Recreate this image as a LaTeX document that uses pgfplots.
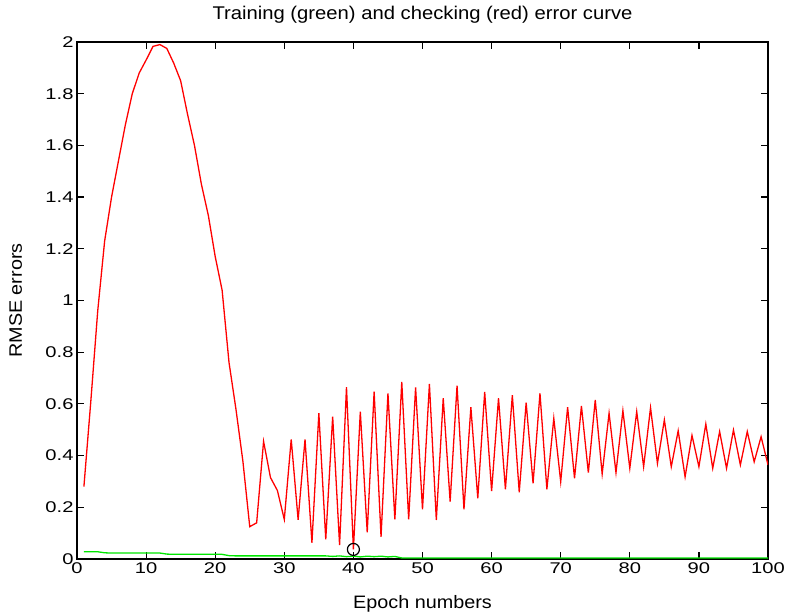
\documentclass[border=0pt]{standalone}
\usepackage{fontspec}
\setmainfont{Liberation Sans}[FakeStretch=1.1]
\newfontfamily\tickfont{Liberation Sans}[FakeStretch=1.3]
\usepackage{pgfplots}
\pgfplotsset{compat=1.18}
\begin{document}
\begin{tikzpicture}[x=1pt,y=1pt]
\useasboundingbox (0,0) rectangle (789,615);
\begin{axis}[
  at={(77pt,56pt)}, anchor=south west,
  scale only axis, width=691pt, height=517pt,
  xmin=0, xmax=100, ymin=0, ymax=2,
  xtick={0,10,20,30,40,50,60,70,80,90,100},
  ytick={0,0.2,0.4,0.6,0.8,1,1.2,1.4,1.6,1.8,2},
  tick align=inside, tick pos=both,
  major tick length=7pt,
  every tick/.style={black, line width=1.2pt},
  axis line style={black, line width=1.4pt},
  /pgf/number format/assume math mode=true,
  tick label style={font=\tickfont\fontsize{15.5}{17}\selectfont},
  title={Training (green) and checking (red) error curve},
  title style={at={(axis description cs:0.5,1)}, anchor=base, yshift=16pt, font=\fontsize{18.4}{20}\selectfont},
  xlabel={Epoch numbers},
  xlabel style={at={(axis description cs:0.5,0)}, anchor=base, yshift=-50pt, font=\fontsize{18}{20}\selectfont},
  ylabel={RMSE errors},
  ylabel style={at={(axis description cs:-0.0796,0.5)}, anchor=base, font=\fontsize{18}{20}\selectfont},
]
\addplot[color={rgb,255:red,0;green,230;blue,0}, line width=1.3pt] coordinates {
(1,0.028) (2,0.028) (3,0.028) (4,0.024) (5,0.023) (6,0.023) (7,0.023) (8,0.023)
(9,0.023) (10,0.023) (11,0.023) (12,0.023) (13,0.019) (14,0.018) (15,0.018)
(16,0.018) (17,0.018) (18,0.018) (19,0.018) (20,0.018) (21,0.018) (22,0.013)
(23,0.012) (25,0.012) (30,0.012) (35,0.012) (36,0.012) (37,0.010) (38,0.012)
(39,0.009) (40,0.011) (41,0.008) (42,0.011) (43,0.009) (44,0.011) (45,0.008)
(46,0.010) (47,0.004) (50,0.004) (60,0.004) (70,0.004) (80,0.004) (90,0.004) (100,0.004)
};
\addplot[color={rgb,255:red,255;green,0;blue,0}, line width=1.3pt] coordinates {
(1,0.28) (2,0.61) (3,0.96) (4,1.23) (5,1.40) (6,1.54) (7,1.68) (8,1.80) (9,1.88)
(10,1.93) (11,1.983) (12,1.99) (13,1.975) (14,1.918) (15,1.85) (16,1.72) (17,1.60)
(18,1.45) (19,1.33) (20,1.17) (21,1.04) (22,0.76) (23,0.58) (24,0.38) (25,0.125)
(26,0.14) (27,0.455) (28,0.315) (29,0.265) (30,0.153) (31,0.463) (32,0.152)
(33,0.463) (34,0.063) (35,0.564) (36,0.076) (37,0.551) (38,0.054) (39,0.665)
(40,0.037) (41,0.570) (42,0.103) (43,0.647) (44,0.086) (45,0.641) (46,0.153)
(47,0.685) (48,0.153) (49,0.664) (50,0.192) (51,0.677) (52,0.151) (53,0.622)
(54,0.222) (55,0.671) (56,0.192) (57,0.587) (58,0.235) (59,0.646) (60,0.263)
(61,0.622) (62,0.270) (63,0.634) (64,0.258) (65,0.605) (66,0.293) (67,0.641)
(68,0.270) (69,0.544) (70,0.299) (71,0.587) (72,0.312) (73,0.592) (74,0.334)
(75,0.615) (76,0.329) (77,0.564) (78,0.334) (79,0.574) (80,0.351) (81,0.570)
(82,0.357) (83,0.585) (84,0.370) (85,0.538) (86,0.357) (87,0.496) (88,0.318)
(89,0.478) (90,0.357) (91,0.522) (92,0.351) (93,0.493) (94,0.351) (95,0.499)
(96,0.364) (97,0.493) (98,0.376) (99,0.473) (100,0.364)
};
\addplot[only marks, mark=o, mark size=6pt, mark options={black, line width=1.2pt}] coordinates {(40,0.037)};
\end{axis}
\end{tikzpicture}
\end{document}
